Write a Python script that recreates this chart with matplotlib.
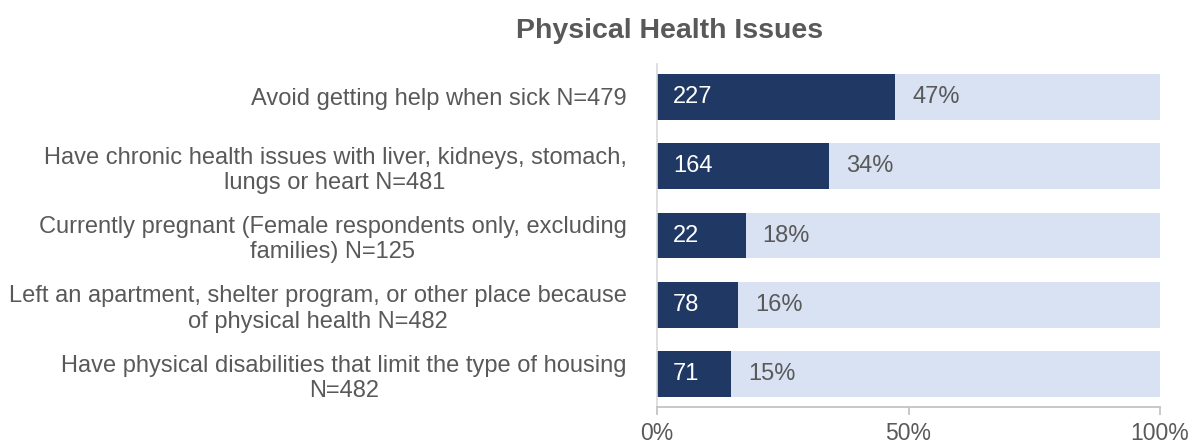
import matplotlib
matplotlib.use("Agg")
import matplotlib.pyplot as plt

labels = [
    "Avoid getting help when sick N=479",
    "Have chronic health issues with liver, kidneys, stomach,\nlungs or heart N=481",
    "Currently pregnant (Female respondents only, excluding\nfamilies) N=125",
    "Left an apartment, shelter program, or other place because\nof physical health N=482",
    "Have physical disabilities that limit the type of housing\nN=482",
]
counts = [227, 164, 22, 78, 71]
totals = [479, 481, 125, 482, 482]
pct_labels = ["47%", "34%", "18%", "16%", "15%"]
xticks = [0, 50, 100]
xtick_labels = ["0%", "50%", "100%"]

dark = "#203864"
light = "#D9E2F3"
gray = "#595959"
fs = 17

plt.rcParams["font.family"] = ["Liberation Sans", "DejaVu Sans"]

fig = plt.figure(figsize=(12.01, 4.44), dpi=100)
ax = fig.add_axes([657/1201, 1 - 407/444, (1160-657)/1201, (407-64)/444])

y = list(range(len(labels)))
pcts = [c / t * 100 for c, t in zip(counts, totals)]
ax.barh(y, [100]*len(y), height=0.66, color=light, zorder=1)
ax.barh(y, pcts, height=0.66, color=dark, zorder=2)

for yi, p, c, pl in zip(y, pcts, counts, pct_labels):
    ax.text(3.2, yi, str(c), color="white", va="center", ha="left", fontsize=fs, zorder=3)
    ax.text(p + 3.4, yi, pl, color=gray, va="center", ha="left", fontsize=fs, zorder=3)

ax.set_xlim(0, 100)
ax.set_ylim(4.47, -0.47)
ax.set_yticks(y)
ax.set_yticklabels(labels, fontsize=fs, color=gray, ha="right", multialignment="center",
                   linespacing=1.2)
ax.tick_params(axis="y", length=0, pad=22)
ax.set_xticks(xticks)
ax.set_xticklabels(xtick_labels, fontsize=16.5, color=gray)
ax.tick_params(axis="x", length=6, color="#BFBFBF", width=1.2, pad=5)

for s in ["top", "right"]:
    ax.spines[s].set_visible(False)
ax.spines["left"].set_color("#D9D9D9")
ax.spines["left"].set_linewidth(1.2)
ax.spines["bottom"].set_color("#BFBFBF")
ax.spines["bottom"].set_linewidth(1.2)

fig.text(670/1201, 1 - 31/444, "Physical Health Issues", ha="center", va="center",
         fontsize=20.5, fontweight="bold", color=gray)

fig.savefig("out.png", dpi=100)
